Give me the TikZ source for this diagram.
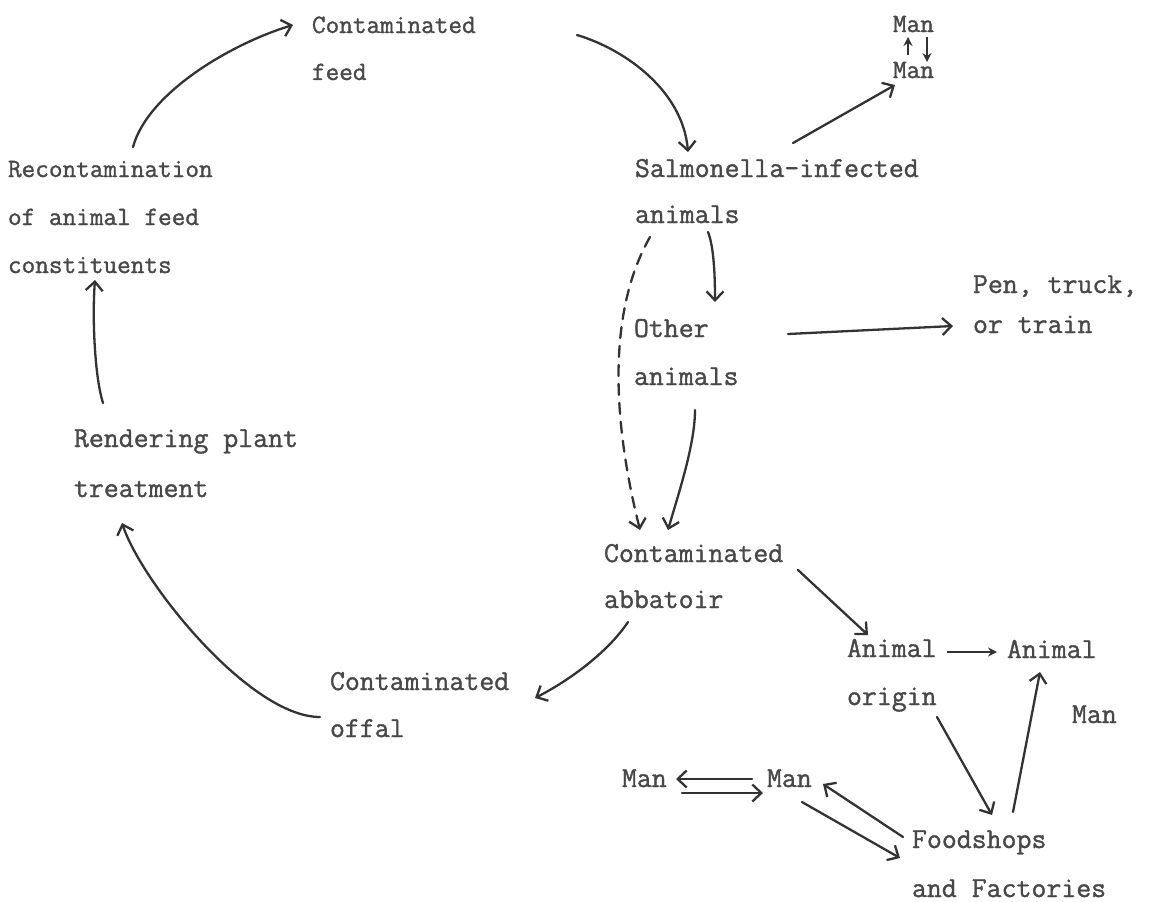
\documentclass[tikz,border=0pt]{standalone}
\usepackage{fontspec}
\setmonofont{Latin Modern Mono}[FakeBold=1.2]
\usetikzlibrary{arrows.meta}
\definecolor{ink}{HTML}{333333}
\definecolor{txtc}{HTML}{484848}
\newcommand{\mlines}[2]{\vtop{\baselineskip=#1pt\relax\lineskip=0pt\lineskiplimit=-1000pt\halign{##\hfil\cr#2\crcr}}}
\begin{document}
\begin{tikzpicture}[x=1pt,y=-1pt,
  txt/.style={anchor=base west,inner sep=0pt,outer sep=0pt,text=txtc,font=\ttfamily\fontsize{29}{29}\selectfont},
  txts/.style={txt,font=\ttfamily\fontsize{26.5}{26.5}\selectfont},
  link/.style={draw=ink,line width=2.3pt,line cap=round,-{Straight Barb[length=9pt,width=17pt,line width=2.3pt]}},
  smalllink/.style={draw=ink,line width=2.3pt,-{Stealth[length=9pt,width=9pt]}},
  dlink/.style={link,dash pattern=on 11pt off 8pt}]
\useasboundingbox[fill=white] (0,0) rectangle (1154,902);

% nodes
\node[txts] (recon)  at (8,177)   {\mlines{48}{Recontamination\cr of animal feed\cr constituents}};
\node[txts] (feed)   at (312,33)  {\mlines{47}{Contaminated\cr feed}};
\node[txts] (manA)   at (893,32)  {Man};
\node[txts] (manB)   at (893,78)  {Man};
\node[txt]  (salm)   at (635,177) {\mlines{46}{Salmonella-infected\cr animals}};
\node[txt]  (pen)    at (973,293) {\mlines{40}{Pen, truck,\cr or train}};
\node[txt]  (other)  at (634,337) {\mlines{48}{Other\cr animals}};
\node[txt]  (render) at (74,447)  {\mlines{50}{Rendering plant\cr treatment}};
\node[txt]  (abb)    at (604,562) {\mlines{46}{Contaminated\cr abbatoir}};
\node[txt]  (offal)  at (330,690) {\mlines{47}{Contaminated\cr offal}};
\node[txt]  (orig)   at (847,657) {\mlines{48}{Animal\cr origin}};
\node[txt]  (anim)   at (1007,658) {Animal};
\node[txt]  (manR)   at (1072,723) {Man};
\node[txt]  (food)   at (912,848) {\mlines{49}{Foodshops\cr and Factories}};
\node[txt]  (manL)   at (622,787) {Man};
\node[txt]  (manM)   at (767,787) {Man};

% connectors
\draw[link] ([shift={(125,-30)}]recon.base west) .. controls +(15,-55) and +(-60,18) .. ([shift={(-19,-8)}]feed.base west);
\draw[link] ([shift={(265,2)}]feed.base west) .. controls +(50,15) and +(-5,-60) .. ([shift={(53,-25)}]salm.base west);
\draw[link] ([shift={(158,-34)}]salm.base west) -- ([shift={(2,7)}]manB.base west);
\draw[smalllink] ([shift={(15,-23)}]manB.base west) -- ([shift={(15,5)}]manA.base west);
\draw[smalllink] ([shift={(34,5)}]manA.base west) -- ([shift={(34,-16)}]manB.base west);
\draw[link] ([shift={(73,55)}]salm.base west) .. controls +(6,15) and +(0,-25) .. ([shift={(81,-35)}]other.base west);
\draw[dlink] ([shift={(15,60)}]salm.base west) .. controls +(-40,70) and +(-30,-120) .. ([shift={(36,-32)}]abb.base west);
\draw[link] ([shift={(61,73)}]other.base west) .. controls +(0,35) and +(10,-35) .. ([shift={(64,-32)}]abb.base west);
\draw[link] ([shift={(154,-3)}]other.base west) -- ([shift={(-20,33)}]pen.base west);
\draw[link] ([shift={(29,-44)}]render.base west) .. controls +(-8,-25) and +(-3,40) .. ([shift={(87,103)}]recon.base west);
\draw[link] ([shift={(-10,27)}]offal.base west) .. controls +(-70,0) and +(20,60) .. ([shift={(48,76)}]render.base west);
\draw[link] ([shift={(24,60)}]abb.base west) .. controls +(-20,30) and +(35,-18) .. ([shift={(205,8)}]offal.base west);
\draw[link] ([shift={(194,8)}]abb.base west) -- ([shift={(21,-22)}]orig.base west);
\draw[smalllink] ([shift={(100,-5)}]orig.base west) -- ([shift={(-10,-6)}]anim.base west);
\draw[link] ([shift={(90,60)}]orig.base west) -- ([shift={(80,-33)}]food.base west);
\draw[link] ([shift={(101,-36)}]food.base west) -- ([shift={(33,14)}]anim.base west);
\draw[link] ([shift={(-9,-11)}]food.base west) -- ([shift={(56,-3)}]manM.base west);
\draw[link] ([shift={(35,15)}]manM.base west) -- ([shift={(-12,10)}]food.base west);
\draw[link] ([shift={(-15,-8)}]manM.base west) -- ([shift={(54,-8)}]manL.base west);
\draw[link] ([shift={(60,6)}]manL.base west) -- ([shift={(-4,6)}]manM.base west);
\end{tikzpicture}
\end{document}
